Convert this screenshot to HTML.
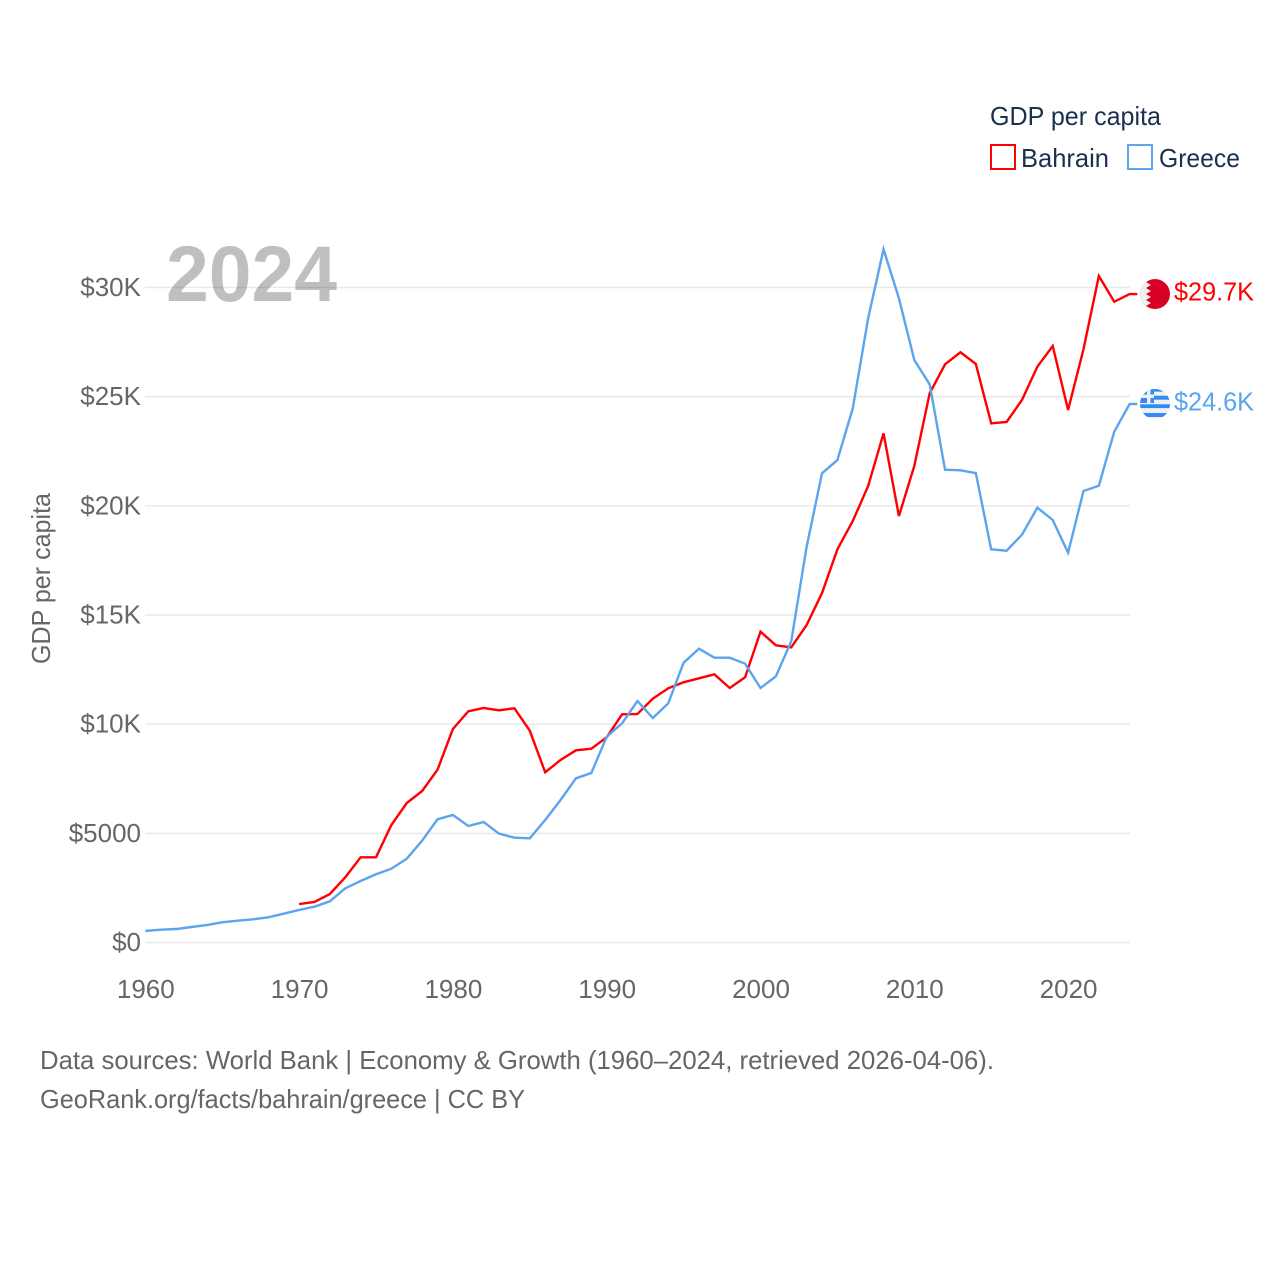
<!DOCTYPE html>
<html lang="en">
<head>
<meta charset="utf-8">
<title>GDP per capita: Bahrain and Greece</title>
<style>
html,body{margin:0;padding:0;background:#fff;width:1280px;height:1280px;overflow:hidden}
svg{display:block}
text{font-family:"Liberation Sans",sans-serif}
</style>
</head>
<body>
<svg id="chart" xmlns="http://www.w3.org/2000/svg" width="1280" height="1280" viewBox="0 0 1280 1280">
  <rect width="1280" height="1280" fill="#fff"/>
  <g id="grid"></g>
  <g id="y-ticks"></g>
  <g id="x-ticks"></g>
  <text x="166" y="301" font-size="79" font-weight="700" fill="#000" fill-opacity="0.25" textLength="171" lengthAdjust="spacingAndGlyphs">2024</text>
  <text transform="translate(50,664) rotate(-90)" font-size="26" fill="#666" textLength="171" lengthAdjust="spacingAndGlyphs">GDP per capita</text>
  <g id="series"></g>
  <defs>
    <clipPath id="flag-clip"><circle cx="0" cy="0" r="15"/></clipPath>
  </defs>
  <g id="flag-bahrain">
    <g clip-path="url(#flag-clip)">
      <rect x="-15" y="-15" width="30" height="30" fill="#d80027"/>
      <polygon points="-15,-15 -4,-15 -9,-12 -4,-9 -9,-6 -4,-3 -9,0 -4,3 -9,6 -4,9 -9,12 -4,15 -15,15" fill="#f0f0f0"/>
    </g>
  </g>
  <g id="flag-greece">
    <g clip-path="url(#flag-clip)">
      <rect x="-15" y="-15" width="30" height="30" fill="#f0f0f0"/>
      <rect x="-15" y="-15" width="30" height="2.6" fill="#338af3"/>
      <rect x="-1" y="-8.3" width="16" height="4" fill="#338af3"/>
      <rect x="-15" y="0.3" width="30" height="3.8" fill="#338af3"/>
      <rect x="-15" y="9" width="30" height="4" fill="#338af3"/>
      <rect x="-15" y="-15" width="14" height="14" fill="#338af3"/>
      <rect x="-8" y="-15" width="3.5" height="14" fill="#f0f0f0"/>
      <rect x="-15" y="-9.5" width="14" height="3.5" fill="#f0f0f0"/>
    </g>
  </g>
  <text id="label-bahrain" x="1174" font-size="26" fill="#ff0000" textLength="80" lengthAdjust="spacingAndGlyphs"></text>
  <text id="label-greece" x="1174" font-size="26" fill="#5ba4ee" textLength="80" lengthAdjust="spacingAndGlyphs"></text>
  <g>
    <text x="990" y="125" font-size="26" fill="#1b3050" textLength="171" lengthAdjust="spacingAndGlyphs">GDP per capita</text>
    <g>
      <rect x="991" y="145" width="24" height="24" fill="none" stroke="#ff0000" stroke-width="2"/>
      <text x="1021" y="167" font-size="26" fill="#1b3050" textLength="88" lengthAdjust="spacingAndGlyphs">Bahrain</text>
    </g>
    <g>
      <rect x="1128" y="145" width="24" height="24" fill="none" stroke="#5ba4ee" stroke-width="2"/>
      <text x="1159" y="167" font-size="26" fill="#1b3050" textLength="81" lengthAdjust="spacingAndGlyphs">Greece</text>
    </g>
  </g>
  <text x="40" y="1069" font-size="26" fill="#666" textLength="954" lengthAdjust="spacingAndGlyphs">Data sources: World Bank | Economy &amp; Growth (1960–2024, retrieved 2026-04-06).</text>
  <text x="40" y="1108" font-size="26" fill="#666" textLength="485" lengthAdjust="spacingAndGlyphs">GeoRank.org/facts/bahrain/greece | CC BY</text>
</svg>
<script>
const years = [1960,1961,1962,1963,1964,1965,1966,1967,1968,1969,1970,1971,1972,1973,1974,1975,1976,1977,1978,1979,1980,1981,1982,1983,1984,1985,1986,1987,1988,1989,1990,1991,1992,1993,1994,1995,1996,1997,1998,1999,2000,2001,2002,2003,2004,2005,2006,2007,2008,2009,2010,2011,2012,2013,2014,2015,2016,2017,2018,2019,2020,2021,2022,2023,2024];
const greece = [527,586,618,710,800,925,1000,1062,1154,1320,1490,1640,1887,2480,2817,3124,3380,3838,4663,5643,5840,5336,5519,4983,4800,4772,5610,6527,7520,7763,9426,10040,11061,10282,10955,12815,13457,13044,13044,12770,11657,12192,13800,18128,21490,22098,24467,28590,31750,29505,26680,25565,21655,21627,21503,18008,17945,18678,19915,19351,17853,20680,20922,23396,24664];
const bahrain = [null,null,null,null,null,null,null,null,null,null,1763,1855,2221,2986,3902,3902,5382,6389,6939,7915,9779,10589,10740,10635,10727,9701,7795,8359,8803,8876,9398,10452,10466,11167,11643,11918,12100,12284,11657,12147,14236,13612,13520,14540,16008,18008,19306,20909,23322,19535,21825,25154,26482,27032,26497,23780,23840,24847,26373,27320,24390,27170,30527,29350,29700];
const yTickValues = [0,5000,10000,15000,20000,25000,30000];
const yTickLabels = ["$0","$5000","$10K","$15K","$20K","$25K","$30K"];
const xTickValues = [1960,1970,1980,1990,2000,2010,2020];
const xTickLabels = ["1960","1970","1980","1990","2000","2010","2020"];
const endLabels = ["$29.7K","$24.6K"];

const SVGNS = "http://www.w3.org/2000/svg";
const xScale = function (year) { return 145.3 + (year - 1960) * 15.38; };
const yScale = function (value) { return 942.5 - value * (942.5 - 287.5) / 30000; };
function make(tag, parent) {
  const el = document.createElementNS(SVGNS, tag);
  parent.appendChild(el);
  return el;
}

const gridGroup = document.getElementById("grid");
const yGroup = document.getElementById("y-ticks");
yTickValues.forEach(function (value, i) {
  const line = make("line", gridGroup);
  
  
  line.setAttribute("x1", 145);
  line.setAttribute("x2", 1130);
  line.setAttribute("y1", yScale(value));
  line.setAttribute("y2", yScale(value));
  line.setAttribute("stroke", "#e9e9e9");
  line.setAttribute("stroke-width", 1.5);
  const label = make("text", yGroup);
  
  
  label.setAttribute("x", 141);
  label.setAttribute("y", yScale(value) + 8.5);
  label.setAttribute("text-anchor", "end");
  label.setAttribute("font-size", 26);
  label.setAttribute("fill", "#666");
  label.textContent = yTickLabels[i];
});

const xGroup = document.getElementById("x-ticks");
xTickValues.forEach(function (year, i) {
  const label = make("text", xGroup);
  
  
  label.setAttribute("x", xScale(year) + 0.5);
  label.setAttribute("y", 998);
  label.setAttribute("text-anchor", "middle");
  label.setAttribute("font-size", 26);
  label.setAttribute("fill", "#666");
  label.textContent = xTickLabels[i];
});

function linePath(values) {
  let d = "";
  let lastValue = null;
  values.forEach(function (value, i) {
    if (value === null) return;
    d += (d ? "L" : "M") + xScale(years[i]).toFixed(2) + " " + yScale(value).toFixed(2);
    lastValue = value;
  });
  d += "L" + xScale(years[years.length - 1] + 0.5).toFixed(2) + " " + yScale(lastValue).toFixed(2);
  return d;
}

const seriesGroup = document.getElementById("series");
const bahrainLine = make("path", seriesGroup);


bahrainLine.setAttribute("d", linePath(bahrain));
bahrainLine.setAttribute("fill", "none");
bahrainLine.setAttribute("stroke", "#ff0000");
bahrainLine.setAttribute("stroke-width", 2.4);
const greeceLine = make("path", seriesGroup);


greeceLine.setAttribute("d", linePath(greece));
greeceLine.setAttribute("fill", "none");
greeceLine.setAttribute("stroke", "#5ba4ee");
greeceLine.setAttribute("stroke-width", 2.4);

const bahrainLast = bahrain[bahrain.length - 1];
const greeceLast = greece[greece.length - 1];
document.getElementById("flag-bahrain").setAttribute("transform", "translate(1155," + yScale(bahrainLast) + ")");
document.getElementById("flag-greece").setAttribute("transform", "translate(1155," + yScale(greeceLast) + ")");
const labelBahrain = document.getElementById("label-bahrain");
labelBahrain.setAttribute("y", yScale(bahrainLast) + 6.5);
labelBahrain.textContent = endLabels[0];
const labelGreece = document.getElementById("label-greece");
labelGreece.setAttribute("y", yScale(greeceLast) + 6.5);
labelGreece.textContent = endLabels[1];
</script>
</body>
</html>
